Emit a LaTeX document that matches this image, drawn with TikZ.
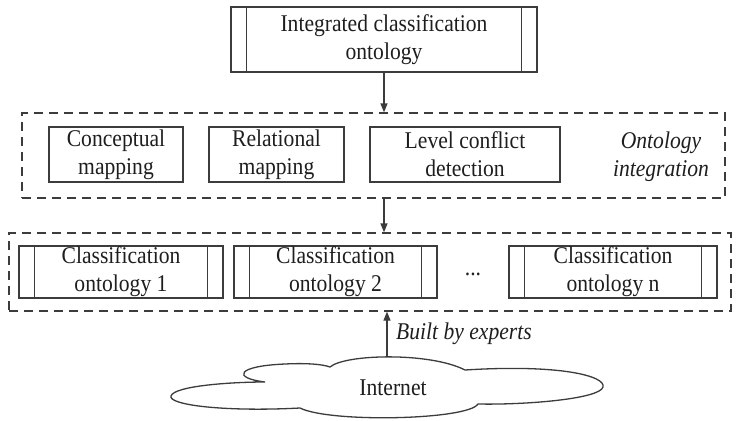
\documentclass[tikz,border=0pt]{standalone}
\usepackage{fontspec}
\setmainfont{Liberation Serif}[FakeStretch=0.9]
\usetikzlibrary{calc,arrows.meta}
\definecolor{ln}{HTML}{3C3C3C}
\definecolor{tx}{HTML}{1E1E1E}
\tikzset{
  every node/.style={font=\fontsize{24}{28}\selectfont, text=tx, align=center, inner sep=0pt},
  plainbox/.style={draw=ln, line width=1.3pt, rectangle},
  dashbox/.style={draw=ln, line width=1.3pt, dash pattern=on 9pt off 6pt, rectangle},
  arr/.style={draw=ln, line width=1.3pt, -{Triangle[length=9pt,width=7pt]}},
  sideline/.style={draw=ln, line width=1.3pt},
  cloudline/.style={draw=ln, line width=1.3pt}
}
\newcommand{\sidebars}[1]{%
  \draw[sideline] ($(#1.north west)+(16,0)$) -- ($(#1.south west)+(16,0)$);
  \draw[sideline] ($(#1.north east)+(-16,0)$) -- ($(#1.south east)+(-16,0)$);}
\begin{document}
\begin{tikzpicture}[x=1pt,y=-1pt]
\useasboundingbox (0,0) rectangle (738,420);
% top box
\node[plainbox, minimum width=306pt, minimum height=65pt] (top) at (384,39.5) {Integrated classification\\ontology};
\sidebars{top}
% middle container
\node[dashbox, minimum width=703pt, minimum height=85pt] (mid) at (373.5,155.5) {};
\node[plainbox, minimum width=134pt, minimum height=55pt] (cm) at (116,154.5) {Conceptual\\mapping};
\node[plainbox, minimum width=135pt, minimum height=55pt] (rm) at (276.5,154.5) {Relational\\mapping};
\node[plainbox, minimum width=190pt, minimum height=55pt] (lc) at (465,154.5) {Level conflict\\detection};
\node[font=\fontsize{24}{28}\selectfont\itshape] (oi) at (661,157) {Ontology\\integration};
% bottom container
\node[dashbox, minimum width=722pt, minimum height=78pt] (bot) at (370,272) {};
\node[plainbox, minimum width=204pt, minimum height=52pt] (c1) at (121,272) {Classification\\ontology 1};
\sidebars{c1}
\node[plainbox, minimum width=203pt, minimum height=52pt] (c2) at (335.5,272) {Classification\\ontology 2};
\sidebars{c2}
\node (dots) at (473,274) {...};
\node[plainbox, minimum width=208pt, minimum height=52pt] (cn) at (613,272) {Classification\\ontology n};
\sidebars{cn}
% cloud
\draw[cloudline, fill=white]
  (330,367) .. controls (345,354) and (430,352) .. (465,370)
  .. controls (560,364) and (606,376) .. (603,387)
  .. controls (600,399) and (525,405) .. (478,404)
  .. controls (468,420) and (330,423) .. (300,408)
  .. controls (225,412) and (168,405) .. (171,396)
  .. controls (174,386) and (230,382) .. (265,382)
  .. controls (232,378) and (236,366) .. (285,364)
  .. controls (305,363) and (322,364) .. (330,367) -- cycle;
\coordinate (cloudtop) at (387,357);
\node (inet) at (393,388) {Internet};
% arrows
\draw[arr] (top.south) -- (top.south |- mid.north);
\draw[arr] (top.south |- mid.south) -- (top.south |- bot.north);
\draw[arr] (cloudtop) -- (cloudtop |- bot.south);
\node[anchor=west, font=\fontsize{24}{28}\selectfont\itshape] (be) at (396,334) {Built by experts};
\end{tikzpicture}
\end{document}
